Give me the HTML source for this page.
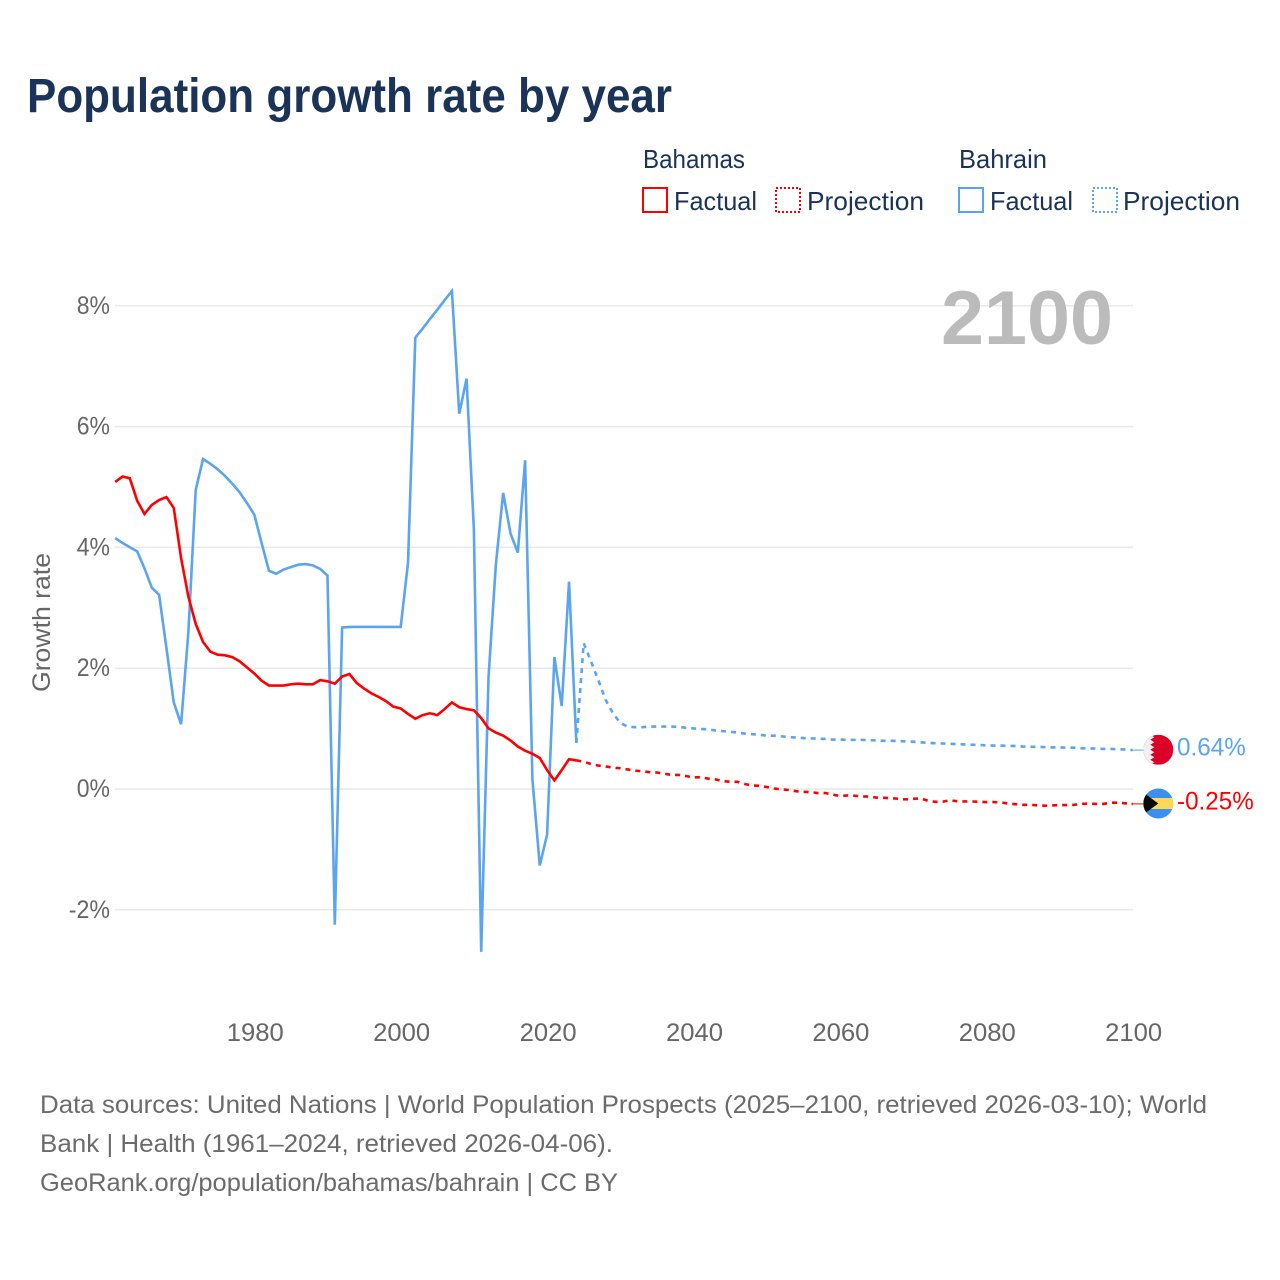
<!DOCTYPE html>
<html lang="en">
<head>
<meta charset="utf-8">
<title>Population growth rate by year</title>
<style>
html,body{margin:0;padding:0;background:#fff;}
svg{display:block;font-family:"Liberation Sans",sans-serif;}
</style>
</head>
<body>
<svg id="chart" xmlns="http://www.w3.org/2000/svg" width="1280" height="1280" viewBox="0 0 1280 1280">
  <defs>
    <clipPath id="flag-clip-bh"><circle cx="0" cy="0" r="15"/></clipPath>
    <clipPath id="flag-clip-bs"><circle cx="0" cy="0" r="15"/></clipPath>
  </defs>
  <rect x="0" y="0" width="1280" height="1280" fill="#ffffff"/>
  <text x="27" y="112" font-size="48" font-weight="700" fill="#1a3357" textLength="645" lengthAdjust="spacingAndGlyphs">Population growth rate by year</text>

  <g font-size="26" fill="#1a3357">
    <text x="643" y="168" textLength="102" lengthAdjust="spacingAndGlyphs">Bahamas</text>
    <text x="959" y="168" textLength="88" lengthAdjust="spacingAndGlyphs">Bahrain</text>
    <g>
      <rect x="643" y="188" width="24" height="24" fill="none" stroke="#ff0000" stroke-width="2"/>
      <text x="674" y="210" textLength="83" lengthAdjust="spacingAndGlyphs">Factual</text>
    </g>
    <g>
      <rect x="776" y="188" width="24" height="24" fill="none" stroke="#ff0000" stroke-width="2" stroke-dasharray="2 2"/>
      <text x="807" y="210" textLength="117" lengthAdjust="spacingAndGlyphs">Projection</text>
    </g>
    <g>
      <rect x="959" y="188" width="24" height="24" fill="none" stroke="#5ba4ee" stroke-width="2"/>
      <text x="990" y="210" textLength="83" lengthAdjust="spacingAndGlyphs">Factual</text>
    </g>
    <g>
      <rect x="1093" y="188" width="24" height="24" fill="none" stroke="#5ba4ee" stroke-width="2" stroke-dasharray="2 2"/>
      <text x="1123" y="210" textLength="117" lengthAdjust="spacingAndGlyphs">Projection</text>
    </g>
  </g>

  <g id="grid"></g>
  <g id="yticks"></g>
  <g id="xticks"></g>

  <text x="0" y="0" transform="translate(50,692) rotate(-90)" font-size="25" fill="#666666" textLength="139" lengthAdjust="spacingAndGlyphs">Growth rate</text>

  <text x="1113" y="344" text-anchor="end" font-size="76" font-weight="700" fill="#bbbbbb" textLength="172" lengthAdjust="spacingAndGlyphs">2100</text>

  <g id="series"></g>

  <g id="flag-bahrain">
    <g clip-path="url(#flag-clip-bh)">
      <rect x="-15" y="-15" width="30" height="30" fill="#da0027"/>
      <polygon points="-15,-15 -8,-15 -4,-12.5 -8,-10 -4,-7.5 -8,-5 -4,-2.5 -8,0 -4,2.5 -8,5 -4,7.5 -8,10 -4,12.5 -8,15 -15,15" fill="#f0f0f0"/>
    </g>
  </g>
  <g id="flag-bahamas">
    <g clip-path="url(#flag-clip-bs)">
      <rect x="-15" y="-15" width="30" height="30" fill="#3a90f0"/>
      <rect x="-15" y="-5.5" width="30" height="11" fill="#ffd955"/>
      <polygon points="-15,-11 0,0 -15,11" fill="#0a0a0a"/>
    </g>
  </g>
  <g id="value-labels"></g>

  <g font-size="25" fill="#6b6b6b">
    <text x="40" y="1113" textLength="1167" lengthAdjust="spacingAndGlyphs">Data sources: United Nations | World Population Prospects (2025–2100, retrieved 2026-03-10); World</text>
    <text x="40" y="1152" textLength="573" lengthAdjust="spacingAndGlyphs">Bank | Health (1961–2024, retrieved 2026-04-06).</text>
    <text x="40" y="1191" textLength="578" lengthAdjust="spacingAndGlyphs">GeoRank.org/population/bahamas/bahrain | CC BY</text>
  </g>
</svg>
<script>
const firstFactualYear = 1961;
const firstProjectionYear = 2024;
const xTickYears = [1980, 2000, 2020, 2040, 2060, 2080, 2100];
const yTickValues = [-2, 0, 2, 4, 6, 8];

const bahamasFactual = [
  5.08, 5.17, 5.14, 4.77, 4.55, 4.70, 4.78, 4.83, 4.65, 3.82,
  3.18, 2.73, 2.43, 2.27, 2.22, 2.21, 2.18, 2.11, 2.01, 1.91,
  1.79, 1.71, 1.71, 1.71, 1.73, 1.74, 1.73, 1.73, 1.80, 1.78,
  1.74, 1.86, 1.90, 1.75, 1.66, 1.58, 1.52, 1.45, 1.36, 1.33,
  1.24, 1.16, 1.22, 1.25, 1.22, 1.32, 1.43, 1.35, 1.32, 1.30,
  1.17, 1.00, 0.93, 0.88, 0.80, 0.70, 0.63, 0.58, 0.51, 0.31,
  0.14, 0.31, 0.49, 0.47
];
const bahrainFactual = [
  4.15, 4.07, 4.00, 3.93, 3.65, 3.33, 3.21, 2.33, 1.43, 1.07,
  2.60, 4.95, 5.46, 5.38, 5.29, 5.18, 5.05, 4.91, 4.73, 4.54,
  4.07, 3.61, 3.56, 3.63, 3.67, 3.71, 3.72, 3.70, 3.64, 3.53,
  -2.25, 2.67, 2.68, 2.68, 2.68, 2.68, 2.68, 2.68, 2.68, 2.68,
  3.74, 7.47, 7.62, 7.78, 7.93, 8.09, 8.24, 6.21, 6.79, 4.29,
  -2.70, 1.85, 3.71, 4.90, 4.23, 3.91, 5.44, 0.15, -1.27, -0.76,
  2.18, 1.37, 3.43, 0.76
];
const bahamasProjection = [
  0.47, 0.45, 0.41, 0.385, 0.37, 0.35, 0.34, 0.32, 0.30, 0.29, 0.275,
  0.27, 0.25, 0.23, 0.23, 0.21, 0.19, 0.19, 0.17, 0.155, 0.13,
  0.115, 0.115, 0.08, 0.055, 0.05, 0.03, 0.005, -0.01, -0.02, -0.04,
  -0.05, -0.055, -0.07, -0.07, -0.095, -0.12, -0.11, -0.115, -0.125, -0.13,
  -0.145, -0.15, -0.155, -0.165, -0.175, -0.165, -0.16, -0.195, -0.215, -0.215,
  -0.19, -0.205, -0.21, -0.21, -0.215, -0.22, -0.22, -0.225, -0.245, -0.255,
  -0.265, -0.265, -0.275, -0.28, -0.275, -0.27, -0.27, -0.265, -0.25, -0.245,
  -0.25, -0.25, -0.23, -0.23, -0.24, -0.25
];
const bahrainProjection = [
  0.76, 2.41, 2.11, 1.80, 1.47, 1.25, 1.09, 1.03, 1.02, 1.02, 1.03,
  1.03, 1.03, 1.03, 1.025, 1.01, 1.00, 0.99, 0.985, 0.965, 0.955,
  0.945, 0.93, 0.915, 0.905, 0.895, 0.88, 0.88, 0.87, 0.855, 0.85,
  0.84, 0.835, 0.83, 0.825, 0.815, 0.815, 0.81, 0.81, 0.81, 0.805,
  0.80, 0.795, 0.795, 0.79, 0.785, 0.78, 0.77, 0.76, 0.755, 0.75,
  0.745, 0.74, 0.735, 0.73, 0.725, 0.72, 0.715, 0.715, 0.71, 0.71,
  0.70, 0.695, 0.695, 0.69, 0.685, 0.685, 0.68, 0.68, 0.67, 0.67,
  0.665, 0.66, 0.66, 0.655, 0.65, 0.64
];

const NS = 'http://www.w3.org/2000/svg';
const BLUE = '#5ba4ee';
const RED = '#ff0000';

function xScale(year) { return 115.2 + (year - 1961) * 7.32; }
function yScale(value) { return 788.8 - value * 60.4; }
function approxWidth(label) {
  let w = 0;
  for (const c of label) {
    if (c === '%') w += 19;
    else if (c === '-') w += 8;
    else if (c === '.') w += 7;
    else w += 14.25;
  }
  return w;
}
function pathFrom(values, startYear) {
  return values.map(function (v, i) {
    return (i ? 'L' : 'M') + xScale(startYear + i).toFixed(2) + ' ' + yScale(v).toFixed(2);
  }).join(' ');
}
function make(tag, attrs, parent, content) {
  const el = document.createElementNS(NS, tag);
  Object.keys(attrs).forEach(function (k) { el.setAttribute(k, attrs[k]); });
  if (content !== undefined) el.textContent = content;
  parent.appendChild(el);
  return el;
}

const grid = document.getElementById('grid');
const yticks = document.getElementById('yticks');
const xticks = document.getElementById('xticks');
const series = document.getElementById('series');
const valueLabels = document.getElementById('value-labels');

yTickValues.forEach(function (v) {
  const line = make('line', { x1: 115, x2: 1133, y1: yScale(v) + 0.2, y2: yScale(v) + 0.2, stroke: '#e9e9e9', 'stroke-width': 1.5 }, grid);
  
  
  const label = v + '%';
  const t = make('text', { x: 110, y: yScale(v) + 8.2, 'text-anchor': 'end', 'font-size': 25, fill: '#666666', textLength: approxWidth(label), lengthAdjust: 'spacingAndGlyphs' }, yticks, label);
  
  
});

xTickYears.forEach(function (year) {
  const label = String(year);
  const t = make('text', { x: xScale(year) + 1, y: 1041, 'text-anchor': 'middle', 'font-size': 25, fill: '#666666', textLength: approxWidth(label), lengthAdjust: 'spacingAndGlyphs' }, xticks, label);
  
  
});

function drawLine(values, startYear, colour, dashed, name) {
  const attrs = { d: pathFrom(values, startYear), fill: 'none', stroke: colour, 'stroke-width': 2.6, 'stroke-linejoin': 'miter', 'stroke-miterlimit': 4 };
  if (dashed) attrs['stroke-dasharray'] = '5 5';
  const p = make('path', attrs, series);
  
  
}
drawLine(bahrainProjection, firstProjectionYear, BLUE, true, 'bahrain-projection-line');
drawLine(bahamasProjection, firstProjectionYear, RED, true, 'bahamas-projection-line');
drawLine(bahrainFactual, firstFactualYear, BLUE, false, 'bahrain-factual-line');
drawLine(bahamasFactual, firstFactualYear, RED, false, 'bahamas-factual-line');

function drawEnd(values, colour, flagId, slug) {
  const last = values[values.length - 1];
  const py = yScale(last);
  const connector = make('line', { x1: 1131, x2: 1144, y1: py, y2: py, stroke: colour, 'stroke-width': 1 }, series);
  
  
  document.getElementById(flagId).setAttribute('transform', 'translate(1158.3,' + (py - 0.4).toFixed(2) + ')');
  const label = last.toFixed(2) + '%';
  const t = make('text', { x: 1177, y: py + 5.4, 'font-size': 25, fill: colour, textLength: approxWidth(label), lengthAdjust: 'spacingAndGlyphs' }, valueLabels, label);
  
  
}
drawEnd(bahrainProjection, BLUE, 'flag-bahrain', 'bahrain');
drawEnd(bahamasProjection, RED, 'flag-bahamas', 'bahamas');
</script>
</body>
</html>
